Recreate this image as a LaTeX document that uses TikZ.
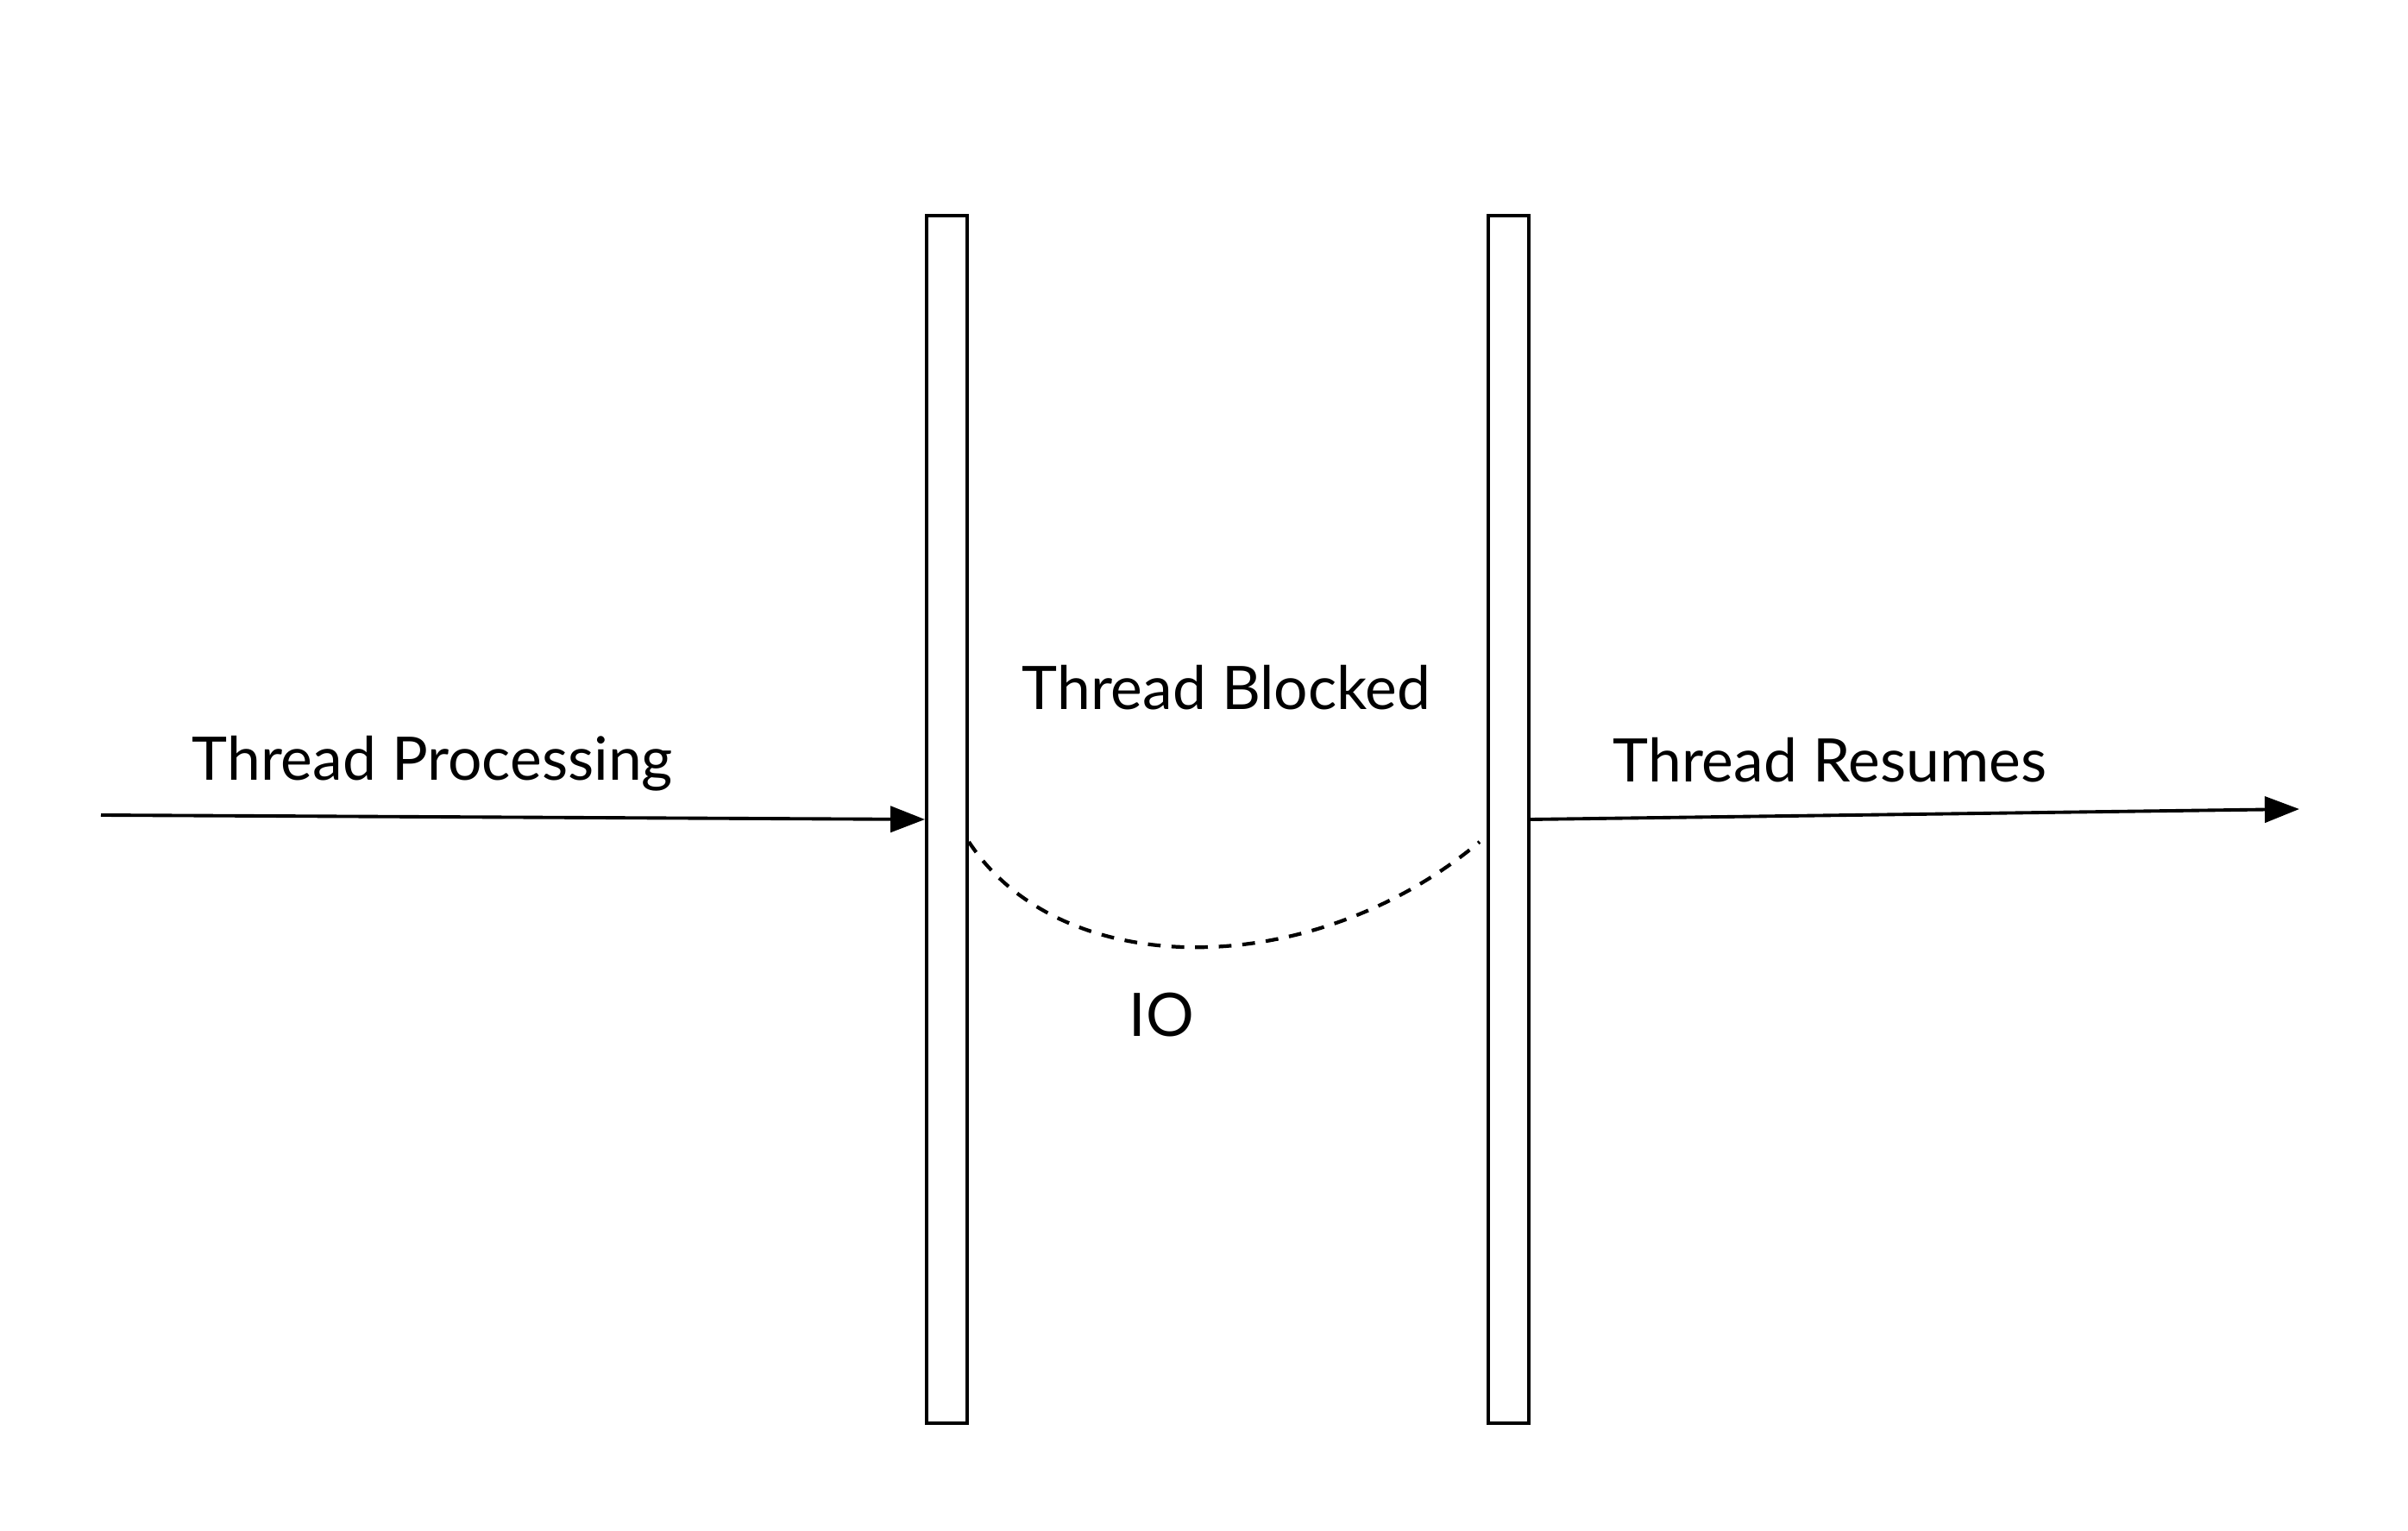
\documentclass[tikz,border=0pt]{standalone}
\usepackage{fontspec}
\setmainfont{Lato}
\usetikzlibrary{arrows.meta, positioning, calc}

\begin{document}
\begin{tikzpicture}[
        node distance=1cm and 1.5cm,
        bar/.style={rectangle, draw=black, line width=1.1pt, fill=white, minimum width=0.47cm, minimum height=14cm, inner sep=0pt},
        label/.style={font=\fontsize{19.8}{24}\selectfont, inner sep=0pt, anchor=base west},
        arrow/.style={-{Triangle[length=0.4cm, width=0.3cm]}, line width=1.1pt, color=black},
        io/.style={dash pattern=on 4.2pt off 3.6pt, line width=1.2pt}
    ]
    \useasboundingbox (0,0) rectangle (27.91,17.74);

    % Bars
    \node[bar] (block) at (10.975,8.24) {};
    \node[bar] (resume) [right=6.0cm of block] {};

    % Arrow ends
    \coordinate (start) at (1.17,8.29);
    \coordinate (finish) at (26.65,8.36);
    \coordinate (ioin) at ($(block.east)+(0,-0.26)$);
    \coordinate (ioout) at ($(resume.west)+(-0.08,-0.26)$);

    % Labels
    \node[label] (processing) at (2.22,8.70) {Thread Processing};
    \node[label] (blocked) at (11.84,9.52) {Thread Blocked};
    \node[label] (resumes) at (18.69,8.68) {Thread Resumes};
    \node[label] (iolabel) at (13.08,5.73) {IO};

    % Connections
    \draw[arrow] (start) -- (block.west);
    \draw[arrow] (resume.east) -- (finish);
    \draw[io] (ioin) .. controls (12.3,6.35) and (15.2,6.35) .. (ioout);

\end{tikzpicture}
\end{document}
